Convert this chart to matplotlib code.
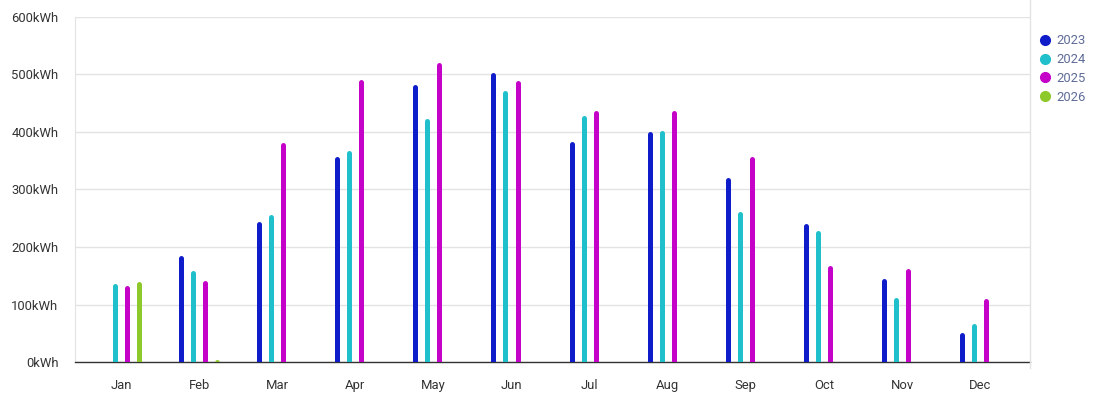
import numpy as np
import matplotlib.pyplot as plt
import matplotlib.transforms as mtransforms
from matplotlib.lines import Line2D

plt.rcParams['font.family'] = ['Roboto', 'DejaVu Sans']

months = ['Jan', 'Feb', 'Mar', 'Apr', 'May', 'Jun', 'Jul', 'Aug', 'Sep', 'Oct', 'Nov', 'Dec']
years = ['2023', '2024', '2025', '2026']
y2023 = [np.nan, 186, 245, 358, 482, 503, 383, 400, 320, 240, 146, 51]
y2024 = [137, 160, 256, 367, 423, 473, 428, 403, 261, 228, 113, 67]
y2025 = [133, 141, 381, 492, 520, 489, 438, 437, 357, 167, 162, 111]
y2026 = [140, 4, np.nan, np.nan, np.nan, np.nan, np.nan, np.nan, np.nan, np.nan, np.nan, np.nan]
colors = ['#0f1cc9', '#1fbfcb', '#c402c8', '#8ec92b']

fig = plt.figure(figsize=(10.98, 3.98), dpi=100)
ax = fig.add_axes([75 / 1098, 36 / 398, 955 / 1098, 345 / 398])

x = np.arange(len(months))
offsets = [-1.5, -0.5, 0.5, 1.5]
step = 12 / 78.1
lw = 3.6
# shift bars down by the cap radius so the rounded top sits on the value
shift = ax.transData + mtransforms.ScaledTranslation(0, -lw / 2 / 72, fig.dpi_scale_trans)
for series, off, c in zip([y2023, y2024, y2025, y2026], offsets, colors):
    vals = np.array(series, dtype=float)
    ok = ~np.isnan(vals)
    ax.vlines(x[ok] + off * step, 0, vals[ok], colors=c, linewidth=lw,
              capstyle='round', zorder=3, transform=shift)

ax.set_xlim(-46 / 78.1, 909 / 78.1)
ax.set_ylim(0, 600)
ax.set_yticks(range(0, 601, 100))
ax.set_yticklabels([f'{v}kWh' for v in range(0, 601, 100)])
ax.set_xticks(x)
ax.set_xticklabels(months)
ax.tick_params(axis='both', length=0, labelsize=9.4, colors='#333333')
ax.tick_params(axis='x', pad=12)
ax.tick_params(axis='y', pad=12)
ax.grid(axis='y', color='#e3e3e3', linewidth=1)
ax.set_axisbelow(True)
for s in ['top', 'right']:
    ax.spines[s].set_visible(False)
ax.spines['left'].set_color('#e3e3e3')
ax.spines['bottom'].set_color('#333333')
ax.spines['bottom'].set_linewidth(1)

# separator between plot and legend
fig.add_artist(Line2D([1029.5 / 1098] * 2, [1 - 368 / 398, 1.0], color='#e3e3e3', linewidth=1))

handles = [Line2D([], [], marker='o', linestyle='', color=c, markersize=7) for c in colors]
fig.legend(handles, years, loc='upper left', bbox_to_anchor=(1030 / 1098, 1 - 29 / 398),
           frameon=False, fontsize=9.4, labelcolor='#5f6c98', handletextpad=0.1,
           labelspacing=0.45, handlelength=1.5, borderaxespad=0)

fig.savefig('out.png', dpi=100)
